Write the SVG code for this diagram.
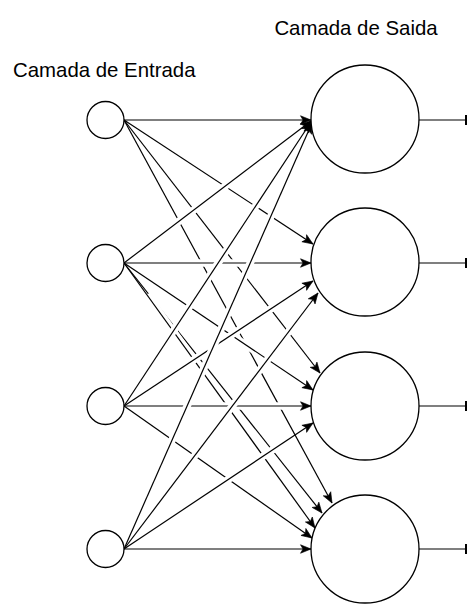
<svg xmlns="http://www.w3.org/2000/svg" width="467" height="604" viewBox="0 0 467 604">
  <style>
    .label { font-family: "Liberation Sans", Arial, sans-serif; font-size: 20.4px; fill: #000; }
    .node { fill: #fff; stroke: #000; stroke-width: 1.3; }
    .edge { stroke: #000; stroke-width: 1.2; fill: none; marker-end: url(#arrow); }
    .halo { stroke: #fff; stroke-width: 7.5; fill: none; stroke-dasharray: 0 12 76 12; }
    .out { stroke: #000; stroke-width: 1.2; fill: none; marker-end: url(#bar); }
  </style>
  <defs>
    <!-- classic filled arrowhead, tip at the end of the line -->
    <marker id="arrow" markerUnits="userSpaceOnUse" markerWidth="12" markerHeight="10" refX="10.5" refY="4.25" orient="auto" overflow="visible">
      <path d="M0,0 L10.5,4.25 L0,8.5 L2.5,4.25 Z" fill="#000" stroke="#000" stroke-width="0.6"/>
    </marker>
    <!-- short bar closing each output line -->
    <marker id="bar" markerUnits="userSpaceOnUse" markerWidth="4" markerHeight="12" refX="0" refY="5" orient="auto" overflow="visible">
      <line x1="0" y1="0" x2="0" y2="10" stroke="#000" stroke-width="2"/>
    </marker>
  </defs>

  <rect width="467" height="604" fill="#fff"/>

  <text class="label" x="356" y="35" text-anchor="middle">Camada de Saida</text>
  <text class="label" x="13" y="77">Camada de Entrada</text>

  <!-- weighted connections, input layer to output layer -->
  <g id="connectors">
    <line class="halo" pathLength="100" x1="124" y1="120" x2="311" y2="120"/>
    <line class="edge" x1="124" y1="120" x2="311" y2="120"/>
    <line class="halo" pathLength="100" x1="124" y1="120" x2="313" y2="244"/>
    <line class="edge" x1="124" y1="120" x2="313" y2="244"/>
    <line class="halo" pathLength="100" x1="124" y1="120" x2="320" y2="373"/>
    <line class="edge" x1="124" y1="120" x2="320" y2="373"/>
    <line class="halo" pathLength="100" x1="124" y1="120" x2="332" y2="503"/>
    <line class="edge" x1="124" y1="120" x2="332" y2="503"/>

    <line class="halo" pathLength="100" x1="124" y1="263" x2="311" y2="121"/>
    <line class="edge" x1="124" y1="263" x2="311" y2="121"/>
    <line class="halo" pathLength="100" x1="124" y1="263" x2="311" y2="263"/>
    <line class="edge" x1="124" y1="263" x2="311" y2="263"/>
    <line class="halo" pathLength="100" x1="124" y1="263" x2="313" y2="390"/>
    <line class="edge" x1="124" y1="263" x2="313" y2="390"/>
    <line class="halo" pathLength="100" x1="124" y1="263" x2="322" y2="513"/>
    <line class="edge" x1="124" y1="263" x2="322" y2="513"/>
    <line class="halo" pathLength="100" x1="124" y1="263" x2="315" y2="528"/>
    <line class="edge" x1="124" y1="263" x2="315" y2="528"/>

    <line class="halo" pathLength="100" x1="124" y1="406" x2="311" y2="122"/>
    <line class="edge" x1="124" y1="406" x2="311" y2="122"/>
    <line class="halo" pathLength="100" x1="124" y1="406" x2="313" y2="281"/>
    <line class="edge" x1="124" y1="406" x2="313" y2="281"/>
    <line class="halo" pathLength="100" x1="124" y1="406" x2="311" y2="406"/>
    <line class="edge" x1="124" y1="406" x2="311" y2="406"/>
    <line class="halo" pathLength="100" x1="124" y1="406" x2="312" y2="538"/>
    <line class="edge" x1="124" y1="406" x2="312" y2="538"/>

    <line class="halo" pathLength="100" x1="124" y1="549" x2="312" y2="123"/>
    <line class="edge" x1="124" y1="549" x2="312" y2="123"/>
    <line class="halo" pathLength="100" x1="124" y1="549" x2="318" y2="293"/>
    <line class="edge" x1="124" y1="549" x2="318" y2="293"/>
    <line class="halo" pathLength="100" x1="124" y1="549" x2="313" y2="423"/>
    <line class="edge" x1="124" y1="549" x2="313" y2="423"/>
    <line class="halo" pathLength="100" x1="124" y1="549" x2="311" y2="549"/>
    <line class="edge" x1="124" y1="549" x2="311" y2="549"/>

    <!-- outputs -->
    <line class="out" x1="419" y1="120" x2="466" y2="120"/>
    <line class="out" x1="419" y1="263" x2="466" y2="263"/>
    <line class="out" x1="419" y1="406" x2="466" y2="406"/>
    <line class="out" x1="419" y1="549" x2="466" y2="549"/>
  </g>

  <g id="input1"><circle class="node" cx="105.5" cy="120" r="18.5"/></g>
  <g id="input2"><circle class="node" cx="105.5" cy="263" r="18.5"/></g>
  <g id="input3"><circle class="node" cx="105.5" cy="406" r="18.5"/></g>
  <g id="input4"><circle class="node" cx="105.5" cy="549" r="18.5"/></g>

  <g id="output1"><circle class="node" cx="365" cy="119" r="54"/></g>
  <g id="output2"><circle class="node" cx="365" cy="262" r="54"/></g>
  <g id="output3"><circle class="node" cx="365" cy="406" r="54"/></g>
  <g id="output4"><circle class="node" cx="365" cy="549" r="54"/></g>
</svg>
